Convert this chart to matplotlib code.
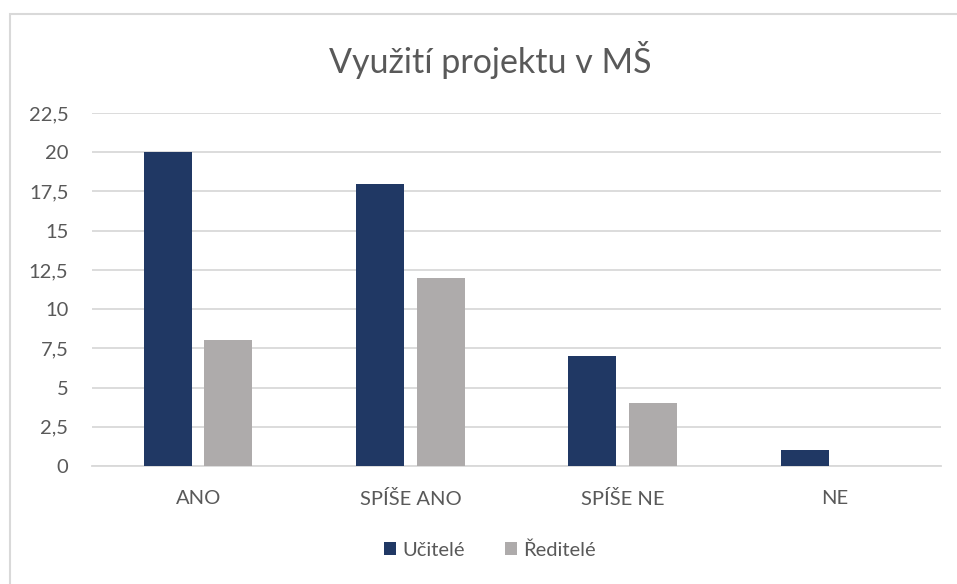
import matplotlib
matplotlib.use("Agg")
from matplotlib import pyplot as plt
from matplotlib.patches import Rectangle
import numpy as np

categories = ["ANO", "SPÍŠE ANO", "SPÍŠE NE", "NE"]
ucitele = [20, 18, 7, 1]
reditele = [8, 12, 4, 0]
series_names = ["Učitelé", "Ředitelé"]
ticks = [0, 2.5, 5, 7.5, 10, 12.5, 15, 17.5, 20, 22.5]

plt.rcParams["font.family"] = ["Lato", "DejaVu Sans"]

fig = plt.figure(figsize=(9.57, 5.84), dpi=100)

# outer chart frame (runs off the right/bottom edge as in the screenshot)
fig.patches.append(Rectangle((10 / 957, -0.1), 1.2, 1 - 14 / 584 + 0.1,
                             transform=fig.transFigure, fill=False,
                             edgecolor="#D9D9D9", linewidth=1.5))

ax = fig.add_axes([92 / 957, 1 - 466 / 584, (941 - 92) / 957, (466 - 113) / 584])

x = np.arange(len(categories))
w = 0.226
ax.bar(x - 0.143, ucitele, width=w, color="#203864", label=series_names[0], zorder=3)
ax.bar(x + 0.143, reditele, width=w, color="#AEABAB", label=series_names[1], zorder=3)

ax.set_xlim(-0.5, len(categories) - 0.5)
ax.set_ylim(0, 22.5)
ax.set_yticks(ticks)
ax.set_yticklabels([str(t).replace(".0", "").replace(".", ",") for t in ticks])
ax.set_xticks(x)
ax.set_xticklabels(categories)

ax.grid(axis="y", color="#D9D9D9", linewidth=1.3, zorder=0)
for side in ["top", "right", "left"]:
    ax.spines[side].set_visible(False)
ax.spines["bottom"].set_color("#D9D9D9")
ax.spines["bottom"].set_linewidth(1.3)
ax.tick_params(axis="both", length=0, labelsize=14.5, labelcolor="#595959")
ax.tick_params(axis="x", pad=17)
ax.tick_params(axis="y", pad=17)

fig.text(0.512, 1 - 60 / 584, "Využití projektu v MŠ", ha="center", va="center",
         fontsize=24.5, color="#595959")

fig.legend(loc="center", bbox_to_anchor=(0.512, 1 - 550 / 584), ncol=2, frameon=False,
           fontsize=14.5, labelcolor="#595959", handlelength=0.6, handleheight=0.6,
           handletextpad=0.3, columnspacing=2.0)

fig.savefig("out.png", dpi=100, facecolor="white")
